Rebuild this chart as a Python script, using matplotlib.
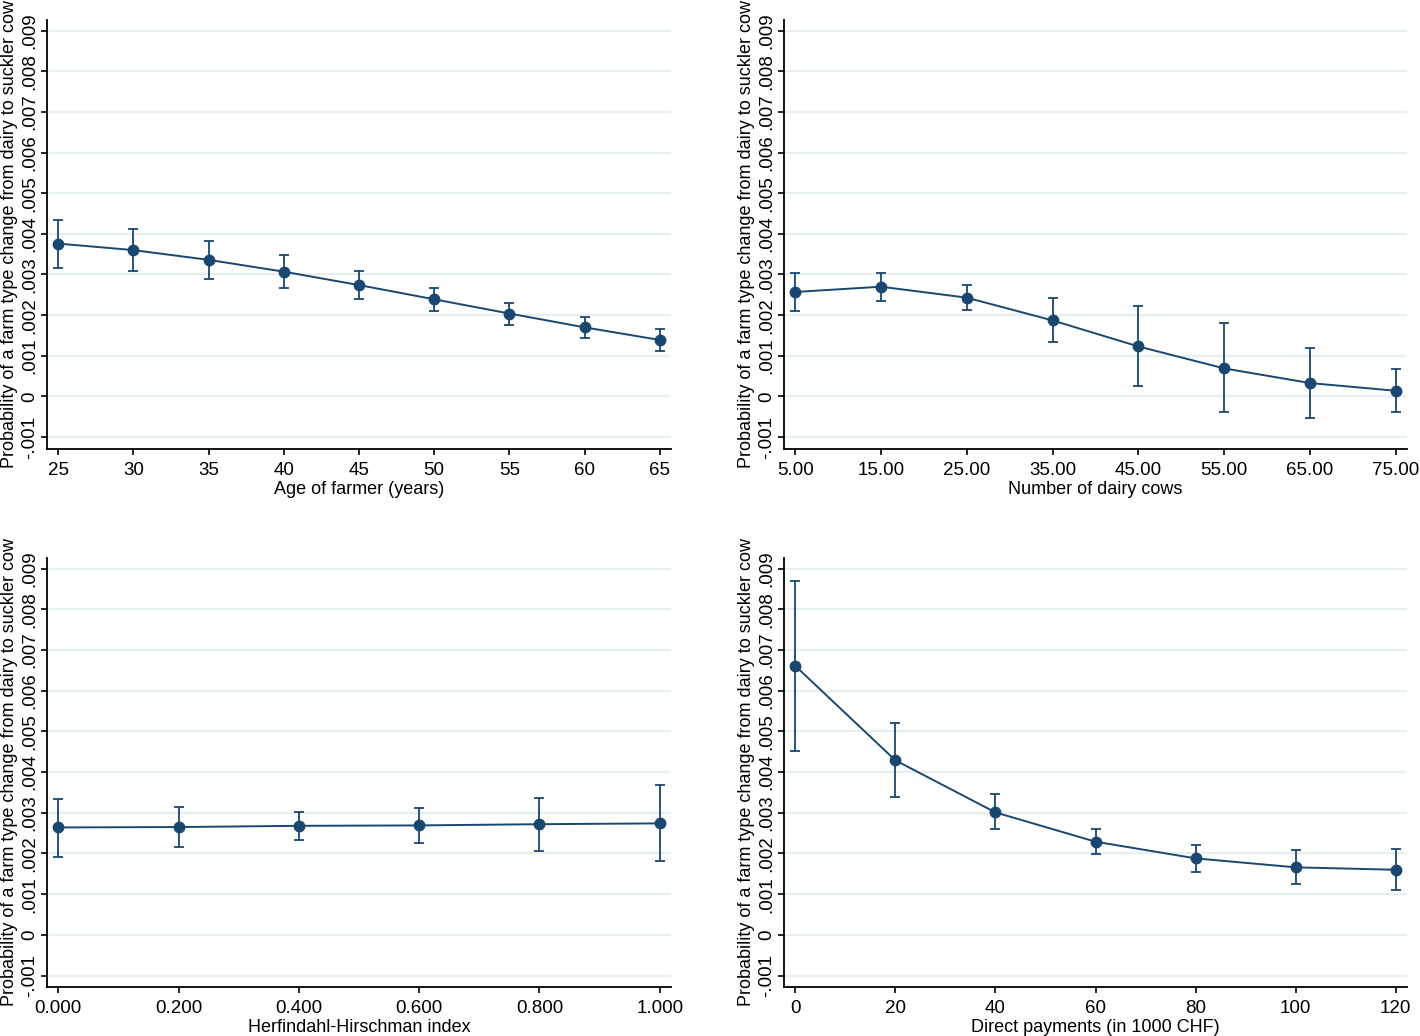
import matplotlib
matplotlib.use("Agg")
import matplotlib.pyplot as plt
from matplotlib.ticker import FixedLocator, FixedFormatter

plt.rcParams['font.family'] = ['Liberation Sans', 'DejaVu Sans']

# ---- data ----
age = [25, 30, 35, 40, 45, 50, 55, 60, 65]
age_p = [0.00376, 0.00360, 0.00336, 0.00307, 0.00274, 0.00239, 0.00204, 0.00170, 0.00139]
age_hi = [0.00435, 0.00412, 0.00382, 0.00347, 0.00309, 0.00268, 0.00231, 0.00196, 0.00166]
age_lo = [0.00317, 0.00308, 0.00290, 0.00267, 0.00240, 0.00210, 0.00177, 0.00144, 0.00111]
age_ticks = ["25", "30", "35", "40", "45", "50", "55", "60", "65"]

cows = [5, 15, 25, 35, 45, 55, 65, 75]
cows_p = [0.00257, 0.00270, 0.00243, 0.00187, 0.00123, 0.00069, 0.00033, 0.00014]
cows_hi = [0.00304, 0.00304, 0.00273, 0.00242, 0.00222, 0.00180, 0.00120, 0.00068]
cows_lo = [0.00210, 0.00235, 0.00213, 0.00133, 0.00025, -0.00039, -0.00052, -0.00039]
cows_ticks = ["5.00", "15.00", "25.00", "35.00", "45.00", "55.00", "65.00", "75.00"]

hhi = [0.0, 0.2, 0.4, 0.6, 0.8, 1.0]
hhi_p = [0.00264, 0.00265, 0.00268, 0.00269, 0.00272, 0.00274]
hhi_hi = [0.00335, 0.00315, 0.00303, 0.00313, 0.00337, 0.00368]
hhi_lo = [0.00191, 0.00217, 0.00232, 0.00226, 0.00207, 0.00181]
hhi_ticks = ["0.000", "0.200", "0.400", "0.600", "0.800", "1.000"]

dp = [0, 20, 40, 60, 80, 100, 120]
dp_p = [0.00661, 0.00429, 0.00301, 0.00229, 0.00188, 0.00166, 0.00160]
dp_hi = [0.00870, 0.00520, 0.00345, 0.00261, 0.00222, 0.00208, 0.00211]
dp_lo = [0.00452, 0.00339, 0.00259, 0.00198, 0.00154, 0.00126, 0.00110]
dp_ticks = ["0", "20", "40", "60", "80", "100", "120"]

y_ticks = [-0.001, 0, 0.001, 0.002, 0.003, 0.004, 0.005, 0.006, 0.007, 0.008, 0.009]
y_labels = ["-.001", "0", ".001", ".002", ".003", ".004", ".005", ".006", ".007", ".008", ".009"]

ylab = "Probability of a farm type change from dairy to suckler cow"
navy = "#1a476f"
grid_c = "#e8eff0"

fig = plt.figure(figsize=(14.2, 10.36), dpi=100)
W, H = 1420, 1036

def make_ax(x0, y0, x1, y1):
    return fig.add_axes([x0 / W, 1 - y1 / H, (x1 - x0) / W, (y1 - y0) / H])

panels = [
    ((47, 20, 671, 448.5), age, age_p, age_lo, age_hi, age_ticks, "Age of farmer (years)"),
    ((784, 20, 1407, 448.5), cows, cows_p, cows_lo, cows_hi, cows_ticks, "Number of dairy cows"),
    ((47, 558, 671, 987), hhi, hhi_p, hhi_lo, hhi_hi, hhi_ticks, "Herfindahl-Hirschman index"),
    ((784, 558, 1407, 987), dp, dp_p, dp_lo, dp_hi, dp_ticks, "Direct payments (in 1000 CHF)"),
]

for box, x, p, lo, hi, xt, xl in panels:
    ax = make_ax(*box)
    rng = x[-1] - x[0]
    m = rng * 0.0187
    ax.set_xlim(x[0] - m, x[-1] + m)
    ax.set_ylim(-0.00128, 0.00926)
    for yv in y_ticks:
        ax.axhline(yv, color=grid_c, lw=1.6, zorder=0)
    yerr = [[pi - l for pi, l in zip(p, lo)], [h - pi for pi, h in zip(p, hi)]]
    ax.errorbar(x, p, yerr=yerr, fmt='none', ecolor=navy, elinewidth=1.3,
                capsize=3.5, capthick=1.3, zorder=2)
    ax.plot(x, p, color=navy, lw=1.4, marker='o', markersize=7.5, zorder=3)
    ax.xaxis.set_major_locator(FixedLocator(x))
    ax.xaxis.set_major_formatter(FixedFormatter(xt))
    ax.yaxis.set_major_locator(FixedLocator(y_ticks))
    ax.yaxis.set_major_formatter(FixedFormatter(y_labels))
    for s in ('top', 'right'):
        ax.spines[s].set_visible(False)
    for s in ('left', 'bottom'):
        ax.spines[s].set_linewidth(1.3)
    ax.tick_params(axis='both', length=4.5, width=1.2, labelsize=13.5)
    ax.tick_params(axis='x', pad=5)
    ax.tick_params(axis='y', pad=2)
    plt.setp(ax.get_yticklabels(), rotation=90, va='center')
    ax.set_xlabel(xl, fontsize=13, labelpad=1.5)
    ax.set_ylabel(ylab, fontsize=13, labelpad=2)

fig.savefig("out.png", dpi=100, facecolor='white')
